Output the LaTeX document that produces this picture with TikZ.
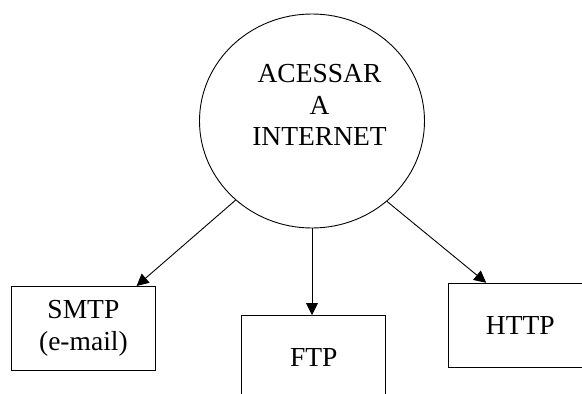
\documentclass[tikz,border=0pt]{standalone}
\usepackage{fontspec}
\setmainfont{Liberation Serif}
\usetikzlibrary{arrows.meta,shapes.geometric}

\tikzset{
  bigtext/.style={font=\fontsize{27.5}{31.5}\selectfont, align=center},
  hub/.style={draw, line width=0.9pt, ellipse, minimum width=225pt, minimum height=214pt, inner sep=0pt},
  protobox/.style={draw, line width=1pt, rectangle, minimum width=144pt, minimum height=84pt, inner sep=0pt, bigtext},
  link/.style={line width=0.9pt, -{Triangle[length=12pt,width=12pt]}}
}

\begin{document}
\begin{tikzpicture}[x=1pt,y=-1pt]
  \useasboundingbox (0,0) rectangle (582,394);
  \begin{scope}
    \clip (0,0) rectangle (582,394);

    % central topic
    \node[hub] (net) at (312,121) {};
    \node[bigtext] (netlabel) at (319.5,105) {ACESSAR\\A\\INTERNET};

    % protocol boxes
    \node[protobox] (smtp) at (83.4,328.5) {SMTP\\(e-mail)};
    \node[protobox] (ftp)  at (313.7,357.5) {FTP};
    \node[protobox] (http) at (520.3,325.3) {HTTP};

    % connectors from the circle to each box
    \draw[link] (net.226.75) -- ([xshift=125.7pt]smtp.north west);
    \draw[link] (net.south) -- (net.south |- ftp.north);
    \draw[link] (net.313.15) -- ([xshift=38.4pt]http.north west);
  \end{scope}
\end{tikzpicture}
\end{document}
